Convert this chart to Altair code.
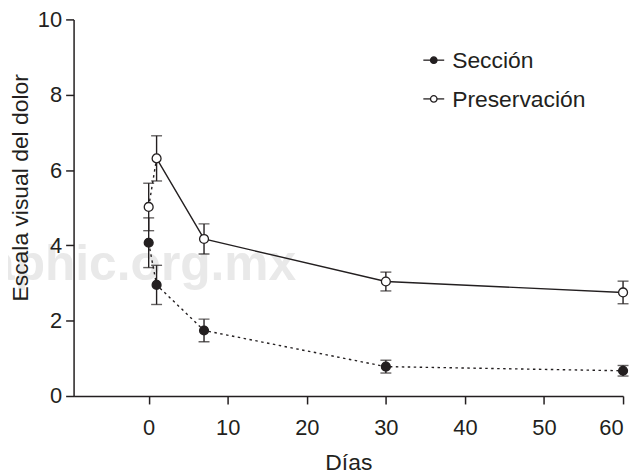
import altair as alt
import pandas as pd

days = [0, 1, 7, 30, 60]
series_names = ["Sección", "Preservación"]
seccion = [4.07, 2.95, 1.74, 0.78, 0.67]
seccion_err = [0.66, 0.52, 0.30, 0.17, 0.14]
preserv = [5.02, 6.31, 4.17, 3.04, 2.75]
preserv_err = [0.63, 0.60, 0.40, 0.25, 0.30]
x_ticks = [0, 10, 20, 30, 40, 50, 60]
y_ticks = [0, 2, 4, 6, 8, 10]
watermark = "aphic.org.mx"

INK = "#231f20"
FONT = "Liberation Sans"

rows = []
for name, vals, errs in [(series_names[0], seccion, seccion_err),
                         (series_names[1], preserv, preserv_err)]:
    for d, v, e in zip(days, vals, errs):
        rows.append({"serie": name, "dia": d, "valor": v,
                     "lo": v - e, "hi": v + e})
df = pd.DataFrame(rows)

# line segments: Sección dotted; Preservación dotted 0->1 then solid
line_rows = []
for d, v in zip(days, seccion):
    line_rows.append({"seg": "s", "dia": d, "valor": v})
for d, v in zip(days[:2], preserv[:2]):
    line_rows.append({"seg": "p0", "dia": d, "valor": v})
for d, v in zip(days[1:], preserv[1:]):
    line_rows.append({"seg": "p1", "dia": d, "valor": v})
ldf = pd.DataFrame(line_rows)

legend_df = pd.DataFrame({"serie": series_names})

xs = alt.Scale(domain=[-9.5, 60], nice=False, zero=False)
ys = alt.Scale(domain=[0, 10], nice=False)

X = alt.X("dia:Q", scale=xs, title="Días",
          axis=alt.Axis(values=x_ticks, format="d", labelPadding=14,
                        titlePadding=13, zindex=1))
Y = alt.Y("valor:Q", scale=ys, title="Escala visual del dolor",
          axis=alt.Axis(values=y_ticks, format="d", labelPadding=4,
                        titleX=-53, titleY=169, titleAngle=270,
                        titleAlign="center", titleBaseline="middle",
                        zindex=1))

fill_scale = alt.Scale(domain=series_names, range=[INK, "white"])

wm = alt.Chart(pd.DataFrame({"t": [watermark]})).mark_text(
    font=FONT, fontWeight="bold", fontSize=50, color="#e9e9e9",
    align="right", baseline="alphabetic"
).encode(x=alt.value(224), y=alt.value(262), text="t:N")

dotted = alt.Chart(ldf).transform_filter(
    alt.FieldOneOfPredicate(field="seg", oneOf=["s", "p0"])
).mark_line(color=INK, strokeWidth=1.4, strokeDash=[2.5, 3.5]).encode(
    x=X, y=Y, detail="seg:N")

solid = alt.Chart(ldf).transform_filter(
    alt.FieldEqualPredicate(field="seg", equal="p1")
).mark_line(color=INK, strokeWidth=1.4).encode(x=X, y=Y)

err = alt.Chart(df).mark_rule(color=INK, strokeWidth=1.4).encode(
    x="dia:Q", y="lo:Q", y2="hi:Q")
cap_lo = alt.Chart(df).mark_tick(color=INK, orient="horizontal", size=11,
                                 thickness=1.4).encode(x="dia:Q", y="lo:Q")
cap_hi = alt.Chart(df).mark_tick(color=INK, orient="horizontal", size=11,
                                 thickness=1.4).encode(x="dia:Q", y="hi:Q")

pts = alt.Chart(df).mark_point(size=80, stroke=INK, strokeWidth=1.3,
                               opacity=1, filled=False).encode(
    x="dia:Q", y="valor:Q",
    fill=alt.Fill("serie:N", scale=fill_scale, legend=None))

main = alt.layer(wm, dotted, solid, err, cap_lo, cap_hi, pts)

# legend (top right): rows placed by a point scale
LY = alt.Y("serie:N", axis=None,
           scale=alt.Scale(type="point", domain=series_names,
                           range=[41, 80], padding=0))
leg_line = alt.Chart(legend_df).mark_rule(color=INK, strokeWidth=1.3).encode(
    x=alt.value(352), x2=alt.value(373), y=LY)
leg_pt = alt.Chart(legend_df).mark_point(
    size=42, stroke=INK, strokeWidth=1.3, opacity=1, filled=False).encode(
    x=alt.value(362.5), y=LY,
    fill=alt.Fill("serie:N", scale=fill_scale, legend=None))
leg_txt = alt.Chart(legend_df).mark_text(
    font=FONT, fontSize=23, color=INK, align="left", baseline="middle",
    dy=1).encode(x=alt.value(381), y=LY, text="serie:N")
leg = alt.layer(leg_line, leg_pt, leg_txt)

chart = alt.layer(main, leg).resolve_scale(y="independent").properties(
    width=553, height=379,
    autosize=alt.AutoSizeParams(type="none"),
    padding={"left": 66, "top": 10, "right": 8, "bottom": 76},
).configure_view(stroke=None).configure_axis(
    domainColor=INK, domainWidth=1.5, tickColor=INK, tickWidth=1.5,
    tickSize=8, labelFont=FONT, labelFontSize=22, labelColor=INK,
    titleFont=FONT, titleFontSize=23, titleColor=INK, titleFontWeight="normal",
    grid=False,
)

chart.save("out.html", embed_options={"renderer": "svg", "actions": False})
